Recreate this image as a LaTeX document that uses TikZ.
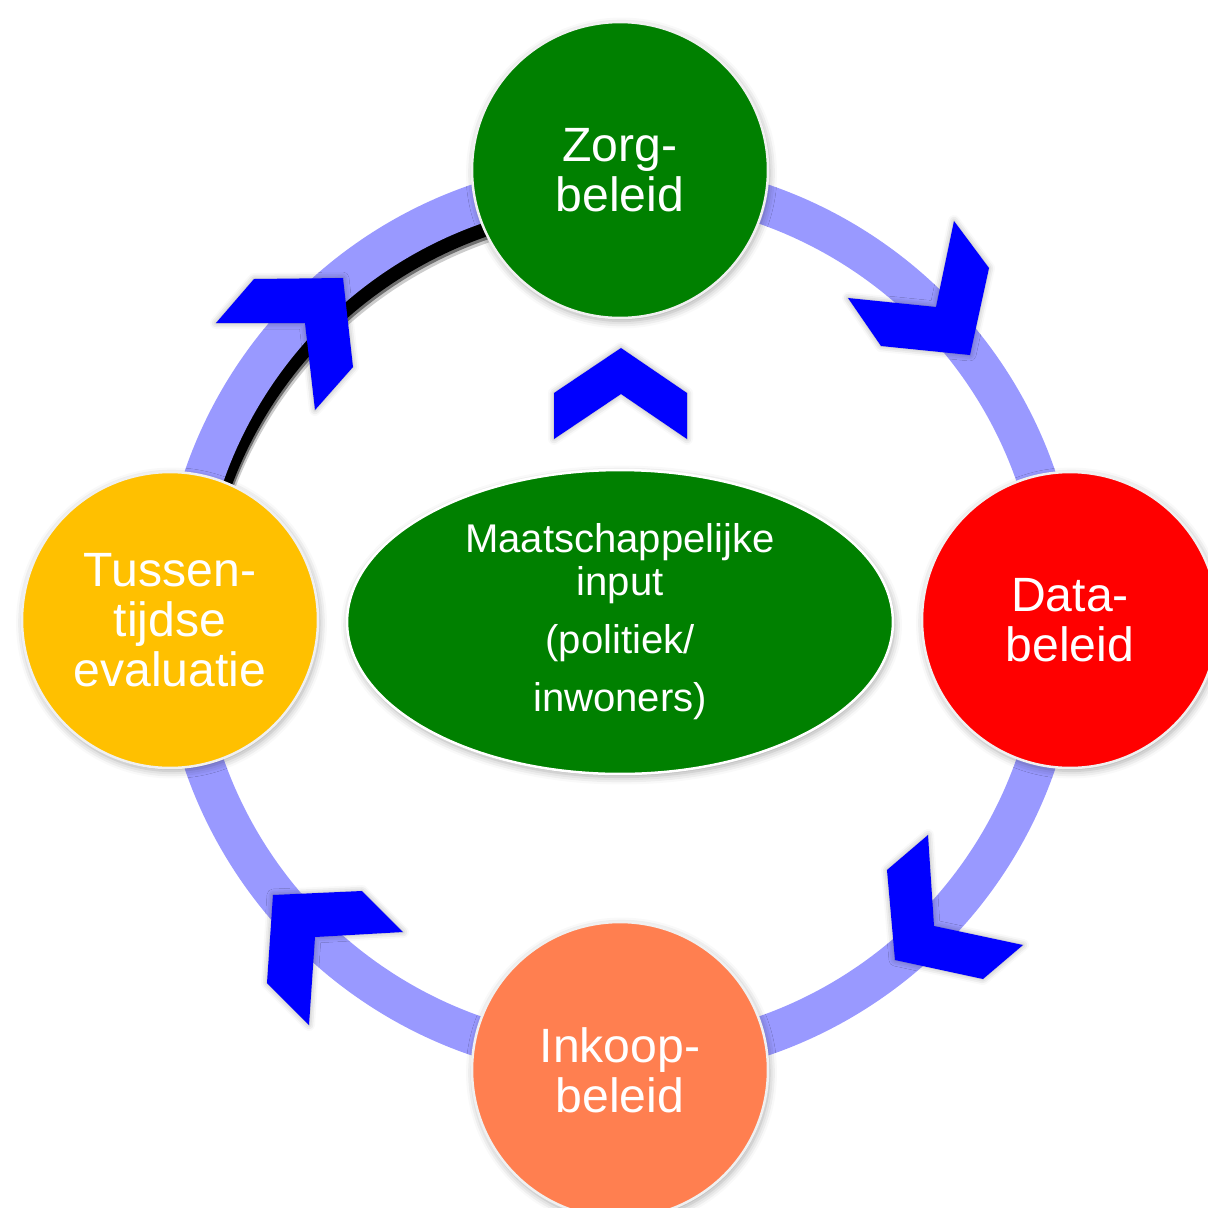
\documentclass[tikz,border=0pt]{standalone}
\usepackage{fontspec}
\setmainfont{Liberation Sans}
\usetikzlibrary{shapes.geometric,shadows.blur}

\definecolor{ringblue}{HTML}{9999FF}
\definecolor{chevblue}{HTML}{0000FF}
\definecolor{zorggreen}{HTML}{008000}
\definecolor{datared}{HTML}{FF0000}
\definecolor{inkoopcoral}{HTML}{FF7F50}
\definecolor{evalyellow}{HTML}{FFC000}

\tikzset{
  ring/.style={draw=ringblue, line width=0.8cm},
  ringshadow/.style={draw=black, line width=0.8cm},
  chevron/.style={fill=chevblue,
    blur shadow={shadow xshift=0pt, shadow yshift=0pt, shadow blur radius=0.12cm, shadow opacity=35}},
  bubble/.style={circle, minimum size=5.92cm, inner sep=0pt, draw=white!88!gray,
    line width=0.05cm, text=white, align=center,
    font=\fontsize{27.4}{28.5}\selectfont,
    blur shadow={shadow xshift=0.03cm, shadow yshift=-0.06cm, shadow blur radius=0.15cm, shadow opacity=35}},
  core/.style={ellipse, minimum width=10.92cm, minimum height=6.08cm, inner sep=0pt,
    fill=zorggreen, draw=white, line width=0.05cm, text=white, align=center,
    font=\fontsize{22.8}{24.2}\selectfont,
    blur shadow={shadow xshift=0.03cm, shadow yshift=-0.06cm, shadow blur radius=0.15cm, shadow opacity=35}}
}

\begin{document}
\begin{tikzpicture}[x=0.02cm, y=-0.02cm]
  \useasboundingbox (0,0) rectangle (1208,1208);

  % cycle ring with its dark, soft shadow along the upper-left arc
  \coordinate (mid) at (620,620);
  \draw[ringshadow, opacity=0.2] ([shift={(7,19)}]mid) ++(96:8.8cm) arc[start angle=96, end angle=172, radius=8.8cm];
  \draw[ringshadow, opacity=0.45] ([shift={(6,16)}]mid) ++(96:8.8cm) arc[start angle=96, end angle=172, radius=8.8cm];
  \draw[ringshadow] ([shift={(5,13)}]mid) ++(96:8.8cm) arc[start angle=96, end angle=172, radius=8.8cm];
  \draw[ring] (mid) circle[radius=8.8cm];

  % chevrons showing the direction of the cycle
  \fill[chevron] (216,323) -- (254,279) -- (343,278) -- (353,367) -- (315,410) -- (305,323) -- cycle;
  \fill[chevron] (954,221) -- (989,268) -- (970,355) -- (881,346) -- (848,298) -- (936,307) -- cycle;
  \fill[chevron] (887,870) -- (928,835) -- (934,926) -- (1023,945) -- (983,979) -- (895,960) -- cycle;
  \fill[chevron] (273,895) -- (362,891) -- (403,932) -- (315,937) -- (309,1025) -- (267,983) -- cycle;
  \fill[chevron] (554,393) -- (621,348) -- (687,393) -- (687,439) -- (621,394) -- (554,439) -- cycle;

  % the four policy stages
  \node[bubble, fill=zorggreen] (zorg) at (620,170) {Zorg-\\beleid};
  \node[bubble, fill=datared] (data) at (1070,620) {Data-\\beleid};
  \node[bubble, fill=inkoopcoral] (inkoop) at (620,1070) {Inkoop-\\beleid};
  \node[bubble, fill=evalyellow] (eval) at (170,620) {Tussen-\\tijdse\\evaluatie};

  % societal input in the centre
  \node[core] (input) at (620,622) {Maatschappelijke\\input\\[9pt](politiek/\\[9pt]inwoners)};
\end{tikzpicture}
\end{document}
